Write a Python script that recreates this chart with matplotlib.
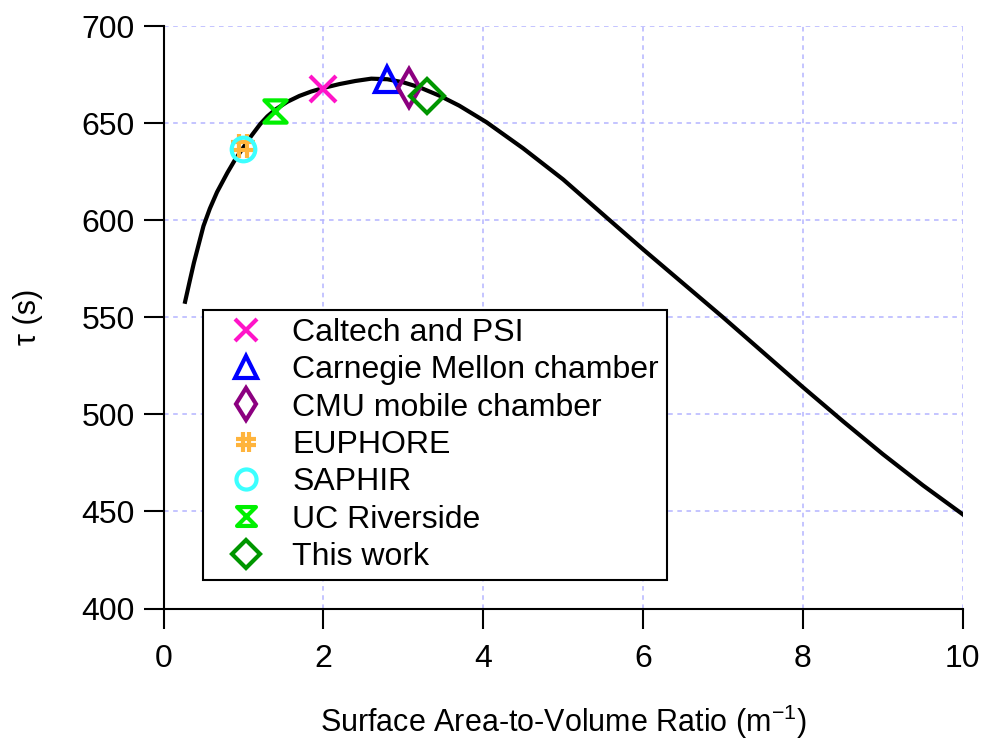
import matplotlib

matplotlib.use("Agg")
import matplotlib.pyplot as plt
from matplotlib.path import Path

plt.rcParams.update({
    "font.family": ["Liberation Sans", "DejaVu Sans"],
    "mathtext.fontset": "custom",
    "mathtext.rm": "Liberation Sans",
    "mathtext.it": "Liberation Sans:italic",
    "font.size": 23,
})

# model curve, values
ratio = [0.27, 0.33, 0.38, 0.44, 0.5, 0.58, 0.67, 0.8, 0.9, 1.0, 1.1, 1.21,
         1.3, 1.4, 1.55, 1.7, 1.85, 2.0, 2.2, 2.4, 2.6, 2.8, 3.0, 3.2, 3.46,
         3.7, 4.04, 4.5, 5.0, 5.54, 6.0, 6.5, 7.0, 7.5, 8.0, 8.5, 9.0, 9.5, 10.0]
tau = [558, 569, 578, 587.5, 597, 606, 614.5, 624.5, 631.5, 637.5, 643.5, 649.5,
       653.5, 657, 661, 664, 666.3, 668.1, 670.1, 671.7, 672.9, 672.6, 671,
       668.5, 664, 659, 650.5, 637, 621, 601.5, 585, 567.5, 550, 532, 514,
       496.5, 479.5, 463.5, 448.5]

# chambers
labels = ["Caltech and PSI", "Carnegie Mellon chamber", "CMU mobile chamber",
          "EUPHORE", "SAPHIR", "UC Riverside", "This work"]
cham_x = [2.0, 2.8, 3.07, 1.0, 1.0, 1.39, 3.3]
cham_y = [667.5, 672.5, 668, 638, 636.5, 656, 664]
colors = ["#ff14c8", "#0000ff", "#8c0080", "#ffb43c", "#3cffff", "#00f000", "#009600"]

hash_marker = Path(
    [(-0.3, -1), (-0.3, 1), (0.3, -1), (0.3, 1),
     (-1, -0.3), (1, -0.3), (-1, 0.3), (1, 0.3)],
    [Path.MOVETO, Path.LINETO] * 4)
hourglass = Path(
    [(-1, 1), (1, 1), (-1, -1), (1, -1), (-1, 1)],
    [Path.MOVETO, Path.LINETO, Path.LINETO, Path.LINETO, Path.CLOSEPOLY])
markers = ["x", "^", "d", hash_marker, "o", hourglass, "D"]
msizes = [19, 18, 19, 17, 17, 16, 17]

fig = plt.figure(figsize=(9.82, 7.44), dpi=100)
ax = fig.add_axes([0.1665, 0.1821, 0.8139, 0.7829])

ax.plot(ratio, tau, color="black", lw=3, zorder=3, solid_joinstyle="round")
for lab, x, y, c, m, s in zip(labels, cham_x, cham_y, colors, markers, msizes):
    ax.plot([x], [y], ls="none", marker=m, ms=s, mfc="none", mec=c, mew=3,
            label=lab, zorder=4)

ax.set_xlim(0, 10)
ax.set_ylim(400, 700)
ax.set_xticks(range(0, 11, 2))
ax.set_yticks(range(400, 701, 50))
ax.grid(True, color="#b4b4ff", ls=(0, (3, 3)), lw=1.1)
ax.set_axisbelow(True)
for s in ["top", "right"]:
    ax.spines[s].set_visible(False)
for s in ["left", "bottom"]:
    ax.spines[s].set_linewidth(1.5)
ax.tick_params(direction="out", length=14.5, width=1.5, labelsize=23)
ax.tick_params(axis="x", pad=11)
ax.tick_params(axis="y", pad=6)

ax.set_xlabel("Surface Area-to-Volume Ratio (m$^{-1}$)", fontsize=22, labelpad=21)
ax.set_ylabel("\u03c4 (s)", fontsize=22, labelpad=28)

leg = ax.legend(loc="lower left", bbox_to_anchor=(0.049, 0.049), borderaxespad=0,
                numpoints=1, markerscale=0.85, fontsize=23, frameon=True,
                fancybox=False, edgecolor="black", framealpha=1, borderpad=0.25,
                handlelength=2.2, handletextpad=0.36, labelspacing=0.23)
leg.get_frame().set_linewidth(1.5)

fig.savefig("out.png", dpi=100)
